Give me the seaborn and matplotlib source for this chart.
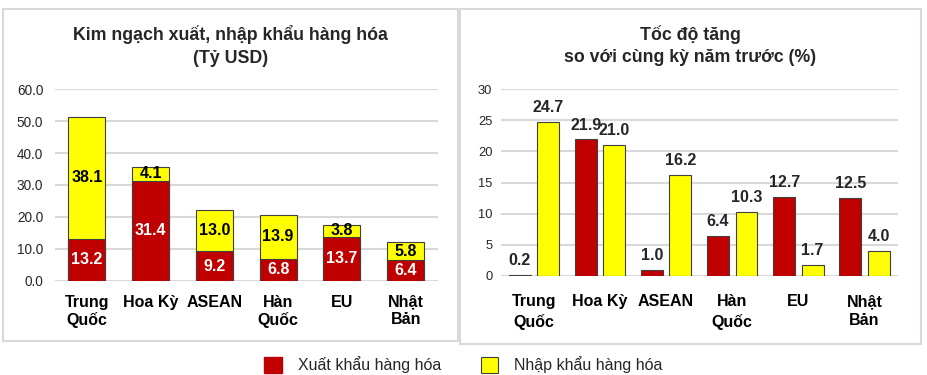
import matplotlib
matplotlib.use("Agg")
import matplotlib.pyplot as plt
from matplotlib.patches import Rectangle, Patch
from matplotlib.ticker import FormatStrFormatter
import seaborn as sns
import pandas as pd

categories = ["Trung\nQuốc", "Hoa Kỳ", "ASEAN", "Hàn\nQuốc", "EU", "Nhật\nBản"]
export_value = [13.2, 31.4, 9.2, 6.8, 13.7, 6.4]
import_value = [38.1, 4.1, 13.0, 13.9, 3.8, 5.8]
export_growth = [0.2, 21.9, 1.0, 6.4, 12.7, 12.5]
import_growth = [24.7, 21.0, 16.2, 10.3, 1.7, 4.0]
series_names = ["Xuất khẩu hàng hóa", "Nhập khẩu hàng hóa"]
left_title = "Kim ngạch xuất, nhập khẩu hàng hóa\n(Tỷ USD)"
right_title = "Tốc độ tăng\nso với cùng kỳ năm trước (%)"

RED = "#C00000"
YELLOW = "#FFFF00"
EDGE = "#404040"
GRID = "#d9d9d9"

sns.set_theme(style="white")
plt.rcParams["font.family"] = ["Liberation Sans", "DejaVu Sans"]

fig = plt.figure(figsize=(9.27, 3.75), dpi=100)

# Panel frames
fig.add_artist(Rectangle((3 / 927, 1 - 340.7 / 375), 455 / 927, 332.2 / 375,
                         transform=fig.transFigure, fill=False, edgecolor=GRID, lw=1.5))
fig.add_artist(Rectangle((460 / 927, 1 - 344 / 375), 461 / 927, 335.5 / 375,
                         transform=fig.transFigure, fill=False, edgecolor=GRID, lw=1.5))

# Left axes: stacked bars
axL = fig.add_axes([55 / 927, 1 - 280.7 / 375, 382.5 / 927, 191.4 / 375])
total = [e + i for e, i in zip(export_value, import_value)]
dfL = pd.DataFrame({"cat": categories, "export": export_value,
                    "import": import_value, "total": total})
sns.barplot(data=dfL, x="cat", y="total", color=YELLOW, saturation=1, width=0.58,
            edgecolor=EDGE, linewidth=0.8, ax=axL)
sns.barplot(data=dfL, x="cat", y="export", color=RED, saturation=1, width=0.58,
            edgecolor=EDGE, linewidth=0.8, ax=axL)
for i, (e, im) in enumerate(zip(export_value, import_value)):
    axL.text(i, e / 2, f"{e:.1f}", ha="center", va="center", color="white",
             fontsize=11.5, fontweight="bold")
    axL.text(i, e + im / 2, f"{im:.1f}", ha="center", va="center", color="black",
             fontsize=11.5, fontweight="bold")
axL.set_ylim(0, 60)
axL.set_xlim(-0.5, 5.5)
axL.set_yticks(range(0, 61, 10))
axL.yaxis.set_major_formatter(FormatStrFormatter("%.1f"))

# Right axes: grouped bars
axR = fig.add_axes([500.7 / 927, 1 - 276 / 375, 397 / 927, 187 / 375])
dfR = pd.DataFrame({
    "cat": categories * 2,
    "val": export_growth + import_growth,
    "series": [series_names[0]] * 6 + [series_names[1]] * 6,
})
sns.barplot(data=dfR, x="cat", y="val", hue="series", palette=[RED, YELLOW],
            saturation=1, width=0.86, gap=0.23, edgecolor=EDGE, linewidth=0.8,
            legend=False, ax=axR)
for cont in axR.containers:
    axR.bar_label(cont, fmt="%.1f", padding=5, fontsize=11.5, fontweight="bold")
axR.set_ylim(0, 30)
axR.set_xlim(-0.5, 5.5)
axR.set_yticks(range(0, 31, 5))

for ax, pad in ((axL, 8.5), (axR, 6)):
    ax.set_xlabel("")
    ax.set_ylabel("")
    for s in ax.spines.values():
        s.set_visible(False)
    ax.grid(axis="y", color=GRID, lw=1.5)
    ax.grid(axis="x", visible=False)
    ax.set_axisbelow(True)
    ax.tick_params(axis="y", length=0, pad=pad, labelsize=9.8, labelcolor="#262626")
    ax.tick_params(axis="x", length=0, pad=10, labelsize=11.5, labelcolor="black")
    for lab in ax.get_xticklabels():
        lab.set_fontweight("bold")

axR.tick_params(axis="x", pad=13)
axR.tick_params(axis="y", labelsize=9.3)
for lab in axR.get_xticklabels():
    lab.set_linespacing(1.35)

# Titles
fig.text(230.5 / 927, 1 - 46 / 375, left_title, ha="center", va="center",
         fontsize=12.8, fontweight="bold", linespacing=1.4)
fig.text(690 / 927, 1 - 46 / 375, right_title, ha="center", va="center",
         fontsize=12.8, fontweight="bold", linespacing=1.4)

# Legend
handles = [Patch(facecolor=RED, edgecolor=RED, label=series_names[0]),
           Patch(facecolor=YELLOW, edgecolor=EDGE, lw=0.8, label=series_names[1])]
fig.legend(handles=handles, loc="center", bbox_to_anchor=(0.5, 1 - 365 / 375),
           ncol=2, frameon=False, fontsize=11.5, handlelength=1.1, handleheight=1.1,
           handletextpad=1.0, columnspacing=2.5)

fig.savefig("out.png", dpi=100)
